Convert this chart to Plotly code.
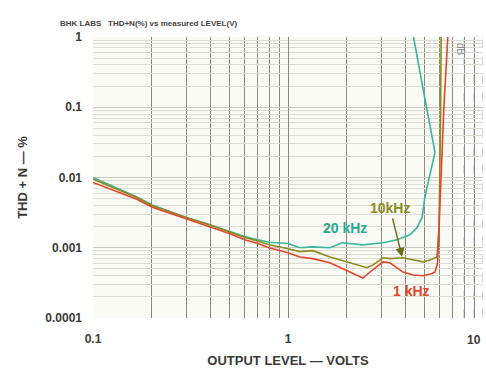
import math
import plotly.graph_objects as go

# levels (V) and THD+N (%)
level_20k = [0.1, 0.13, 0.168, 0.2, 0.3, 0.4, 0.5, 0.6, 0.7, 0.8, 1.0, 1.15, 1.34, 1.64, 1.9,
             2.42, 3.07, 3.62, 4.22, 4.59, 4.87, 5.04, 5.67, 4.4]
thd_20k = [0.0100, 0.0072, 0.0053, 0.0041, 0.0027, 0.0021, 0.0017, 0.00144, 0.0013, 0.0012,
           0.00115, 0.0010, 0.00103, 0.0010, 0.00118, 0.0011, 0.00118, 0.0013, 0.00153,
           0.00193, 0.0027, 0.0053, 0.0228, 1.0]

level_10k = [0.1, 0.13, 0.168, 0.2, 0.3, 0.4, 0.5, 0.6, 0.7, 0.8, 1.0, 1.15, 1.34, 1.64, 2.08,
             2.54, 2.73, 3.07, 3.33, 3.89, 4.92, 5.35, 5.81, 5.95, 6.05, 6.1]
thd_10k = [0.0095, 0.0070, 0.0052, 0.0040, 0.0027, 0.0021, 0.0017, 0.0014, 0.00125, 0.0011,
           0.00097, 0.00088, 0.00091, 0.00074, 0.00061, 0.00052, 0.00057, 0.00072, 0.0007,
           0.00072, 0.00063, 0.00067, 0.00074, 0.002, 0.05, 1.0]

level_1k = [0.1, 0.13, 0.168, 0.2, 0.3, 0.4, 0.5, 0.6, 0.7, 0.8, 1.0, 1.15, 1.34, 1.64, 2.08,
            2.42, 2.73, 3.07, 3.33, 3.89, 4.38, 4.92, 5.35, 5.67, 5.85, 5.95, 6.1, 6.3, 6.6]
thd_1k = [0.0085, 0.0065, 0.0049, 0.0038, 0.0026, 0.0020, 0.0016, 0.0013, 0.00115, 0.001,
          0.00085, 0.00074, 0.0007, 0.00061, 0.00045, 0.00037, 0.00049, 0.00063, 0.00061,
          0.00045, 0.00041, 0.0004, 0.00042, 0.00045, 0.0006, 0.002, 0.01, 0.1, 1.0]

x_ticks = [0.1, 1, 10]
x_labels = ['0.1', '1', '10']
y_ticks = [0.0001, 0.001, 0.01, 0.1, 1]
y_labels = ['0.0001', '0.001', '0.01', '0.1', '1']

teal = '#3bb59c'
olive = '#8f8a1e'
red = '#e5462a'
ink = '#3a3a36'

fig = go.Figure()
fig.add_trace(go.Scatter(x=level_20k, y=thd_20k, mode='lines',
                         line=dict(color=teal, width=1.6), showlegend=False))
fig.add_trace(go.Scatter(x=level_10k, y=thd_10k, mode='lines',
                         line=dict(color=olive, width=1.6), showlegend=False))
fig.add_trace(go.Scatter(x=level_1k, y=thd_1k, mode='lines',
                         line=dict(color=red, width=1.6), showlegend=False))

# the printed graph paper stops short of the right edge; only faint verticals continue
fig.add_shape(type='rect', xref='x', yref='paper', x0=7.45, x1=10, y0=0, y1=1,
              fillcolor='white', line_width=0, layer='between')
for v in [8, 9, 10]:
    fig.add_shape(type='line', xref='x', yref='paper', x0=v, x1=v, y0=0, y1=1,
                  line=dict(color='#a8a8a0', width=1, dash='dash'), layer='between')

lab_font = dict(family='Liberation Sans, Arial', size=14, weight='bold')
fig.add_annotation(x=math.log10(1.95), y=-2.714, text='20 kHz', showarrow=False,
                   font=dict(lab_font, color='#2aa98d'))
fig.add_annotation(x=math.log10(3.35), y=-2.43, text='10kHz', showarrow=False,
                   font=dict(lab_font, color=olive))
fig.add_annotation(x=math.log10(4.3), y=-3.614, text='1 kHz', showarrow=False,
                   font=dict(lab_font, color=red))
# arrow from the 10kHz label down to its curve
fig.add_annotation(x=math.log10(3.85), y=-3.13, text='', showarrow=True,
                   ax=-10, ay=-40, arrowhead=2, arrowsize=1.2, arrowwidth=1.5,
                   arrowcolor='#6f6a18')

# last x tick label sits against the right edge, pulled inside so it is not clipped
fig.add_annotation(xref='paper', yref='paper', x=1.0, y=0, xanchor='right', yanchor='top',
                   yshift=-13, text=x_labels[-1], showarrow=False,
                   font=dict(family='Liberation Sans, Arial', size=12, color=ink, weight='bold'))

fig.add_annotation(xref='paper', yref='paper', x=-0.09, y=1.07, xanchor='left',
                   text='BHK LABS&nbsp;&nbsp; THD+N(%) vs measured LEVEL(V)', showarrow=False,
                   font=dict(family='Liberation Sans, Arial', size=8, color='#444', weight='bold'))
fig.add_annotation(xref='paper', yref='paper', x=0.962, y=0.985, text='dB', textangle=90,
                   showarrow=False, font=dict(family='Liberation Sans', size=10, color='#888'))

fig.update_layout(
    width=486, height=378,
    margin=dict(l=93, r=3, t=37, b=60),
    paper_bgcolor='white',
    plot_bgcolor='#fbfbf6',
    font=dict(family='Liberation Sans, Arial', color=ink),
)

fig.update_xaxes(
    type='log', range=[-1, 1], automargin=False,
    tickvals=x_ticks, ticktext=x_labels[:-1] + [''],
    tickfont=dict(size=12, weight='bold'), ticks='', ticklabelstandoff=12,
    showgrid=True, gridcolor='#8a8a84', gridwidth=1,
    minor=dict(showgrid=True, dtick='D1', gridcolor='#8a8a84', gridwidth=1),
    showline=False, zeroline=False,
    title=dict(text='OUTPUT LEVEL — VOLTS', font=dict(size=13, weight='bold'), standoff=10),
)
fig.update_yaxes(
    type='log', range=[-4, 0], automargin=False,
    tickvals=y_ticks, ticktext=y_labels,
    tickfont=dict(size=12, weight='bold'), ticks='', ticklabelstandoff=10,
    showgrid=True, gridcolor='#c9c9c0', gridwidth=1,
    minor=dict(showgrid=True, dtick='D1', gridcolor='#dcdcd4', gridwidth=1),
    showline=False, zeroline=False,
    title=dict(text='THD + N — %', font=dict(size=13, weight='bold'), standoff=14),
)

fig.write_html('out.html', config={'displayModeBar': False},
               post_script="document.body.style.margin='0';document.body.style.overflow='hidden';")
